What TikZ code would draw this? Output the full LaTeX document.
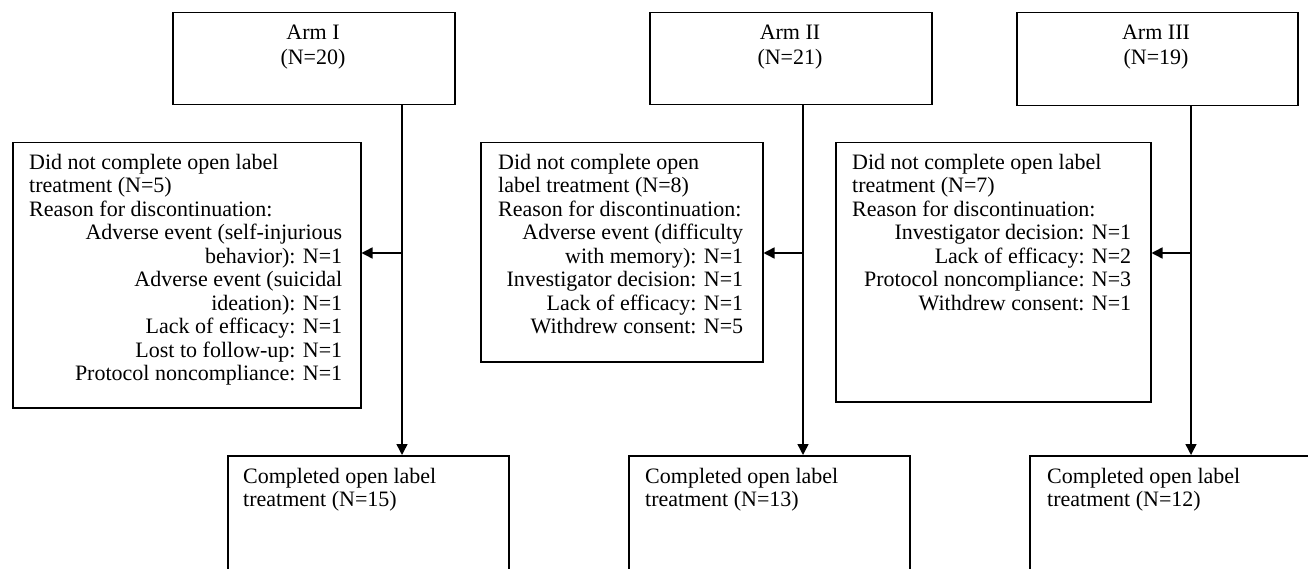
\documentclass[tikz,border=0pt]{standalone}
\usepackage{fontspec}
\setmainfont{Liberation Serif}
\usetikzlibrary{arrows.meta}
\newcommand{\Lline}[2]{\makebox[#1][l]{#2}}
\newcommand{\Rline}[2]{\makebox[#1][r]{#2}}
\begin{document}
\begin{tikzpicture}[x=1pt,y=-1pt,
  box/.style={draw,line width=1.5pt,inner sep=0pt,anchor=north west},
  txt/.style={inner sep=0pt,anchor=north west,align=left,font=\fontsize{22}{23.5}\selectfont},
  armtxt/.style={inner sep=0pt,anchor=north,align=center,font=\fontsize{22}{24.5}\selectfont},
  arr/.style={line width=1.5pt,-{Triangle[length=11pt,width=11pt]}}]
\useasboundingbox (0,0) rectangle (1308,569);
\clip (0,0) rectangle (1308,569);
% Arm boxes
\node[box,minimum width=282pt,minimum height=92pt] (arm1) at (172,12) {};
\node[box,minimum width=282pt,minimum height=92pt] (arm2) at (649,12) {};
\node[box,minimum width=281pt,minimum height=93pt] (arm3) at (1016,12) {};
\node[armtxt] (arm1t) at (313,25) {Arm I\\(N=20)};
\node[armtxt] (arm2t) at (790,25) {Arm II\\(N=21)};
\node[armtxt] (arm3t) at (1156,25) {Arm III\\(N=19)};
% Discontinuation boxes
\node[box,minimum width=348pt,minimum height=265pt] (dnc1) at (12,142) {};
\node[box,minimum width=282pt,minimum height=219pt] (dnc2) at (480,142) {};
\node[box,minimum width=315pt,minimum height=259pt] (dnc3) at (835,142) {};
\node[txt] (dnc1t) at (29,154) {%
\Lline{313pt}{Did not complete open label}\\
\Lline{313pt}{treatment (N=5)}\\
\Lline{313pt}{Reason for discontinuation:}\\
\Rline{313pt}{Adverse event (self-injurious}\\
\Rline{313pt}{behavior): N=1}\\
\Rline{313pt}{Adverse event (suicidal}\\
\Rline{313pt}{ideation): N=1}\\
\Rline{313pt}{Lack of efficacy: N=1}\\
\Rline{313pt}{Lost to follow-up: N=1}\\
\Rline{313pt}{Protocol noncompliance: N=1}};
\node[txt] (dnc2t) at (498,154) {%
\Lline{245pt}{Did not complete open}\\
\Lline{245pt}{label treatment (N=8)}\\
\Lline{245pt}{Reason for discontinuation:}\\
\Rline{245pt}{Adverse event (difficulty}\\
\Rline{245pt}{with memory): N=1}\\
\Rline{245pt}{Investigator decision: N=1}\\
\Rline{245pt}{Lack of efficacy: N=1}\\
\Rline{245pt}{Withdrew consent: N=5}};
\node[txt] (dnc3t) at (852,154) {%
\Lline{279pt}{Did not complete open label}\\
\Lline{279pt}{treatment (N=7)}\\
\Lline{279pt}{Reason for discontinuation:}\\
\Rline{279pt}{Investigator decision: N=1}\\
\Rline{279pt}{Lack of efficacy: N=2}\\
\Rline{279pt}{Protocol noncompliance: N=3}\\
\Rline{279pt}{Withdrew consent: N=1}};
% Completed boxes (cut off at the bottom)
\node[box,minimum width=281pt,minimum height=140pt] (comp1) at (227,455) {};
\node[box,minimum width=281pt,minimum height=140pt] (comp2) at (628,455) {};
\node[box,minimum width=300pt,minimum height=140pt] (comp3) at (1029,455) {};
\node[txt] (comp1t) at (243,468) {Completed open label\\treatment (N=15)};
\node[txt] (comp2t) at (645,468) {Completed open label\\treatment (N=13)};
\node[txt] (comp3t) at (1047,468) {Completed open label\\treatment (N=12)};
% junctions
\coordinate (j1) at (402,253);
\coordinate (j2) at (803,253);
\coordinate (j3) at (1191,253);
\draw[arr] (j1 |- arm1.south) -- (j1 |- comp1.north);
\draw[arr] (j2 |- arm2.south) -- (j2 |- comp2.north);
\draw[arr] (j3 |- arm3.south) -- (j3 |- comp3.north);
\draw[arr] (j1) -- (dnc1.east |- j1);
\draw[arr] (j2) -- (dnc2.east |- j2);
\draw[arr] (j3) -- (dnc3.east |- j3);
\end{tikzpicture}
\end{document}
